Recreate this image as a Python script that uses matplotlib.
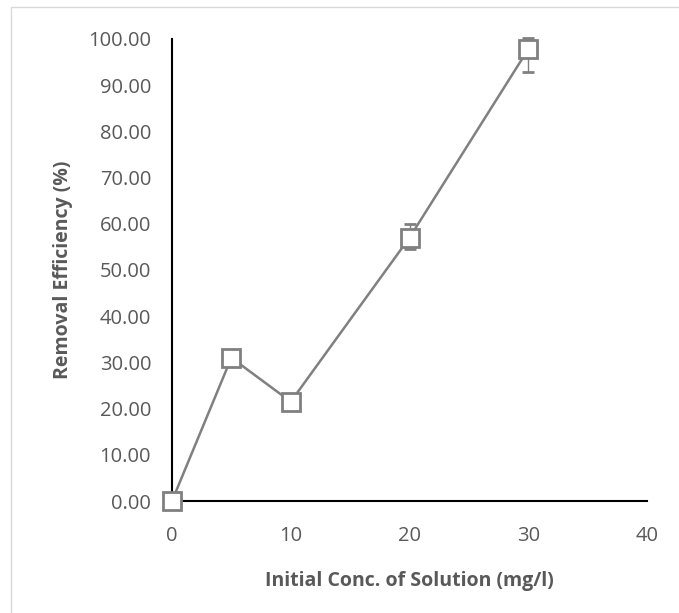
import matplotlib
matplotlib.use('Agg')
import matplotlib.pyplot as plt
from matplotlib.patches import Rectangle

conc = [0, 5, 10, 20, 30]
removal = [0.0, 31.0, 21.5, 57.0, 97.8]
err_low = [0.5, 0.8, 0.8, 2.4, 4.9]
err_high = [0.5, 0.8, 0.8, 3.0, 2.4]

x_ticks = [0, 10, 20, 30, 40]
y_ticks = [0, 10, 20, 30, 40, 50, 60, 70, 80, 90, 100]

plt.rcParams['font.family'] = ['Open Sans', 'DejaVu Sans']

fig = plt.figure(figsize=(6.79, 6.13), dpi=100)
ax = fig.add_axes([0.2533, 0.1827, 0.6996, 0.7537])

grey = '#808080'
ax.errorbar(conc, removal, yerr=[err_low, err_high], color=grey, ecolor=grey,
            elinewidth=1.0, capsize=4.5, capthick=1.0, lw=1.8,
            marker='s', markersize=12.5, markerfacecolor='white',
            markeredgecolor=grey, markeredgewidth=2, zorder=3, clip_on=False)

ax.set_xlim(0, 40)
ax.set_ylim(0, 100)
ax.set_xticks(x_ticks)
ax.set_yticks(y_ticks)
ax.set_yticklabels(['%.2f' % v for v in y_ticks])
ax.tick_params(length=0, labelsize=14.5, colors='#595959')
ax.tick_params(axis='y', pad=15)
ax.tick_params(axis='x', pad=18)

for s in ['top', 'right']:
    ax.spines[s].set_visible(False)
for s in ['left', 'bottom']:
    ax.spines[s].set_color('black')
    ax.spines[s].set_linewidth(1.5)

ax.set_xlabel('Initial Conc. of Solution (mg/l)', fontsize=14, fontweight='bold',
              color='#595959', labelpad=18)
ax.set_ylabel('Removal Efficiency (%)', fontsize=14, fontweight='bold',
              color='#595959', labelpad=11)

# chart border
fig.patches.append(Rectangle((11 / 679, -0.01), 1.0, 1 - 7 / 613 + 0.01,
                             transform=fig.transFigure, fill=False,
                             edgecolor='#d9d9d9', linewidth=1))

fig.savefig('out.png', dpi=100)
